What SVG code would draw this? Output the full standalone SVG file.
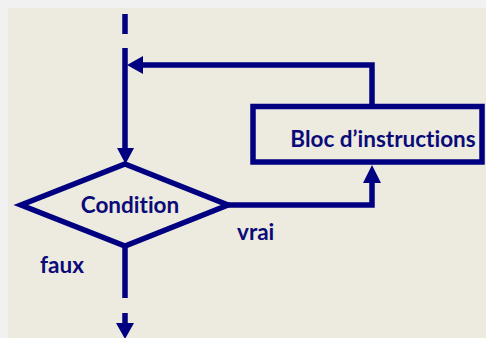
<svg xmlns="http://www.w3.org/2000/svg" width="486" height="338" viewBox="0 0 486 338">
<style>
.ln{fill:none;stroke:#000080;stroke-width:5.5}
.ah{fill:#000080}
.t{font-family:Lato,"Liberation Sans",sans-serif;font-weight:bold;fill:#0a0a78;font-size:22.5px;font-variant-ligatures:none;font-feature-settings:"liga" 0,"dlig" 0}
</style>
<rect x="0" y="0" width="486" height="338" fill="#f1f1f1"/>
<rect x="8" y="8" width="478" height="330" fill="#edeae0"/>
<g id="connectors">
<line class="ln" x1="125" y1="14" x2="125" y2="34"/>
<line class="ln" x1="125" y1="48" x2="125" y2="150"/>
<polygon class="ah" points="117,148 134,148 125.5,164"/>
<polyline class="ln" points="228,205 372,205 372,180"/>
<polygon class="ah" points="363,183 381,183 372,165"/>
<polyline class="ln" points="372,104 372,65 140,65"/>
<polygon class="ah" points="143,56 143,74 127,65"/>
<line class="ln" x1="125" y1="246" x2="125" y2="298"/>
<line class="ln" x1="125" y1="313" x2="125" y2="326"/>
<polygon class="ah" points="116,323 134,323 125,339"/>
</g>
<g id="condition">
<polygon class="ln" points="125,164 228,205 125,246 21,205" stroke-linejoin="miter"/>
<text class="t" x="130" y="213" text-anchor="middle">Condition</text>
</g>
<g id="bloc">
<rect class="ln" x="253" y="106.5" width="229" height="55.5"/>
<text class="t" x="383" y="147" text-anchor="middle">Bloc d’instructions</text>
</g>
<g id="labels">
<text class="t" x="237" y="240">vrai</text>
<text class="t" x="40" y="273">faux</text>
</g>
</svg>
